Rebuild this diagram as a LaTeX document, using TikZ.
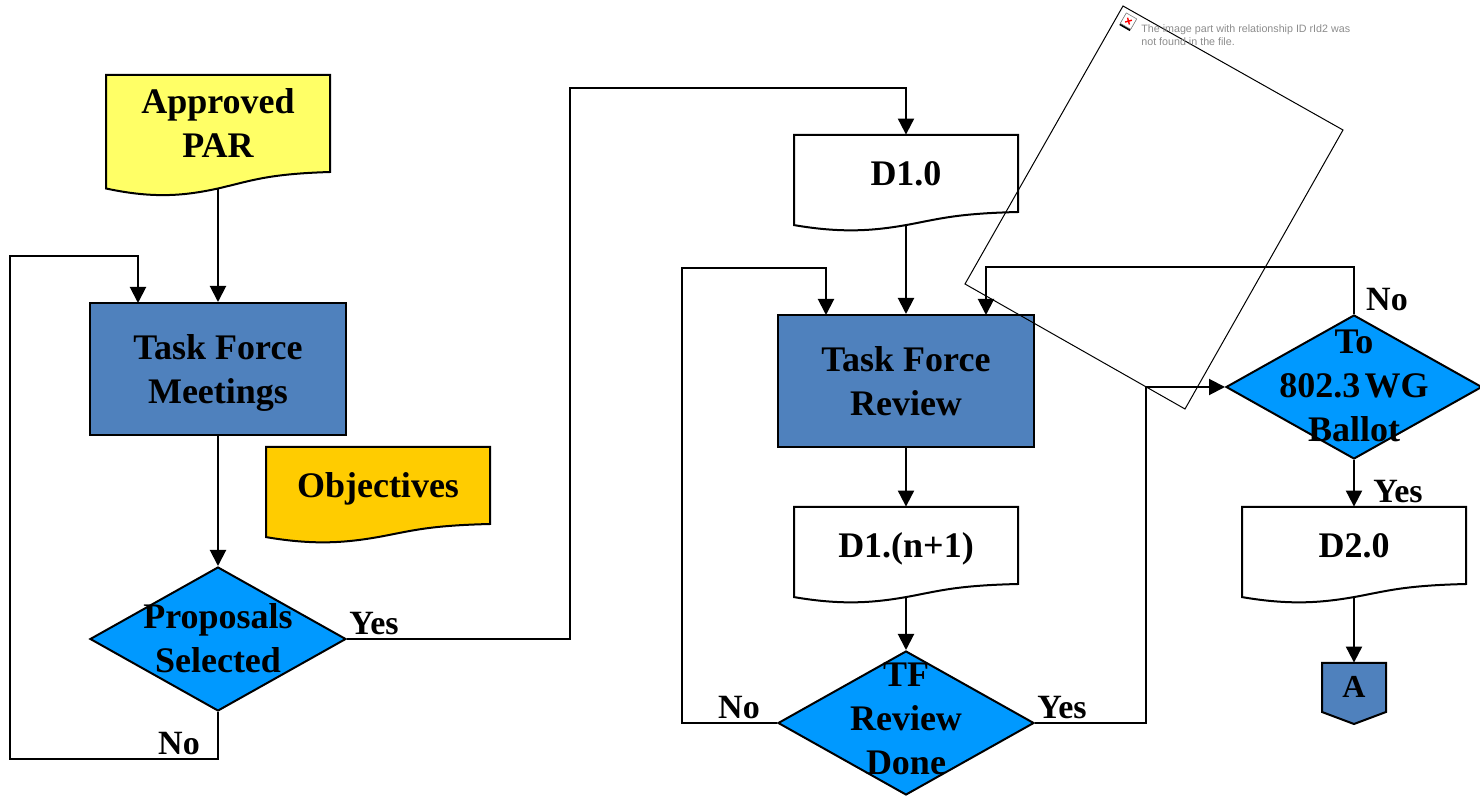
\documentclass[tikz,border=0pt]{standalone}
\usepackage{fontspec}
\setmainfont{Liberation Serif}
\setsansfont{Liberation Sans}
\usetikzlibrary{arrows.meta, shapes.geometric}
\definecolor{parfill}{HTML}{FFFF66}
\definecolor{objfill}{HTML}{FFCC00}
\definecolor{taskfill}{HTML}{4F81BD}
\definecolor{decfill}{HTML}{0099FF}
\tikzset{
    flowline/.style = {line width = 1pt, line join = miter, -{Triangle[length = 8pt, width = 8pt]}},
    boxline/.style = {line width = 1pt, draw = black},
    boxtext/.style = {align = center, font = \fontsize{18}{22}\selectfont\bfseries, inner sep = 0pt},
    yesno/.style = {font = \fontsize{17}{20}\selectfont\bfseries, inner sep = 0pt},
    taskbox/.style = {boxline, boxtext, fill = taskfill, minimum width = 128pt, minimum height = 66pt},
    decbox/.style = {boxline, diamond, fill = decfill, aspect = 1.778, inner sep = 0pt, minimum width = 128pt, minimum height = 72pt}
}
\newcommand{\nodepth}[1]{\raisebox{0pt}[12pt][0pt]{#1}}
% name, left, top, width, height to the right end of the wave, fill, text
\newcommand{\docnode}[7]{
    \begin{scope}[shift = {(#2, #3)}, x = #4*0.5pt]
        \draw[boxline, fill = #6] (0, 0) -- (1, 0) -- (1, #5)
            .. controls (0.72, {#5*1.02}) and (0.65, {#5*1.09}) .. (0.5, {#5*1.17})
            .. controls (0.36, {#5*1.24}) and (0.22, {#5*1.28}) .. (0, {#5*1.17}) -- cycle;
    \end{scope}
    \node[boxtext, minimum width = #4*0.5pt, minimum height = #5*0.5pt](#1) at ({#2 + #4/2}, {#3 + #5/2}){#7};
    \coordinate(#1out) at ({#2 + #4/2}, {#3 + #5*1.17});
}
\begin{document}
\begin{tikzpicture}[x = 0.5pt, y = -0.5pt]
    \useasboundingbox (0, 0) rectangle (1480, 796);
    % left column
    \docnode{par}{106}{75}{224}{97}{parfill}{Approved\\PAR}
    \node[taskbox](tfm) at (218, 369){Task Force\\\nodepth{Meetings}};
    \docnode{obj}{266}{447}{224}{77}{objfill}{\nodepth{Objectives}}
    \node[decbox](prop) at (218, 639){};
    \node[boxtext](proptext) at (218, 638){Proposals\\Selected};
    \coordinate(tfmin) at (138, 303);
    % middle column
    \docnode{dten}{794}{135}{224}{77}{white}{D1.0}
    \node[taskbox](tfr) at (906, 381){Task Force\\Review};
    \docnode{dnext}{794}{507}{224}{77}{white}{\nodepth{D1.(n+1)}}
    \node[decbox](done) at (906, 723){};
    \node[boxtext](donetext) at (906, 719){TF\\Review\\Done};
    \coordinate(tfrleft) at (826, 315);
    \coordinate(tfrright) at (986, 315);
    % right column
    \node[decbox](wg) at (1354, 387){};
    \node[boxtext](wgtext) at (1354, 386){To\\802.3\hspace{0.12em}WG\\Ballot};
    \docnode{dtwo}{1242}{507}{224}{77}{white}{D2.0}
    \draw[boxline, fill = taskfill] (1322, 663) -- (1386, 663) -- (1386, 712) -- (1354, 724) -- (1322, 712) -- cycle;
    \node[yesno, font = \fontsize{16}{20}\selectfont\bfseries, minimum width = 32pt, minimum height = 24pt](offa) at (1354, 687){A};
    % connectors
    \draw[flowline] (parout) -- (tfm.north);
    \draw[flowline] (tfm.south) -- (prop.north);
    \draw[flowline] (prop.south) -- ++(0, 47) -- ++(-208, 0) -- ++(0, -503) -| (tfmin);
    \draw[flowline] (prop.east) -- ++(223, 0) -- ++(0, -551) -| (dten.north);
    \draw[flowline] (dtenout) -- (tfr.north);
    \draw[flowline] (tfr.south) -- (dnext.north);
    \draw[flowline] (dnextout) -- (done.north);
    \draw[flowline] (done.west) -- ++(-95, 0) -- ++(0, -455) -| (tfrleft);
    \draw[flowline] (done.east) -- ++(111, 0) |- (wg.west);
    \draw[flowline] (wg.north) -- ++(0, -47) -| (tfrright);
    \draw[flowline] (wg.south) -- (dtwo.north);
    \draw[flowline] (dtwoout) -- (offa.north);
    % labels
    \node[yesno](propyes) at (374, 624){Yes};
    \node[yesno](propno) at (179, 744){No};
    \node[yesno](doneno) at (739, 708){No};
    \node[yesno](doneyes) at (1062, 708){Yes};
    \node[yesno](wgno) at (1387, 300){No};
    \node[yesno](wgyes) at (1398, 492){Yes};
    % missing picture
    \draw[line width = 0.5pt] (1123, 6) -- (1343, 130) -- (1185, 409) -- (965, 284) -- cycle;
    \begin{scope}[shift = {(1128, 22)}, rotate = -30]
        \fill[black] (-6, -6) rectangle (6, 7);
        \filldraw[draw = gray, fill = white, line width = 0.3pt] (-6, -7) rectangle (6, 5);
        \draw[red, line width = 0.7pt] (-2.5, -3.5) -- (2.5, 1.5) (-2.5, 1.5) -- (2.5, -3.5);
    \end{scope}
    \node[anchor = north west, align = left, inner sep = 0pt, text = black!45, font = \fontsize{5.35}{6.7}\selectfont\sffamily](missing) at (1141, 24){The image part with relationship ID rId2 was\\not found in the file.};
\end{tikzpicture}
\end{document}
